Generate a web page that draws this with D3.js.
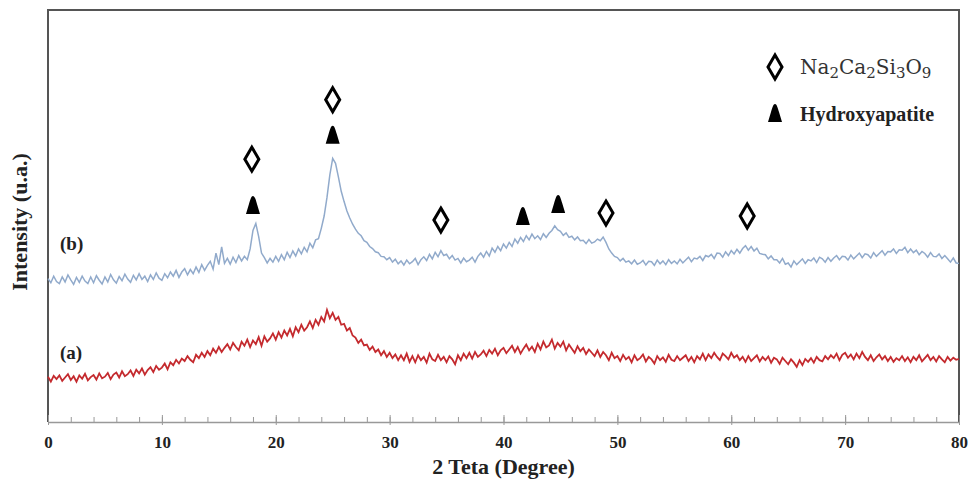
<!DOCTYPE html>
<html>
<head>
<meta charset="utf-8">
<script src="https://cdn.jsdelivr.net/npm/d3@7"></script>
<style>
  body { margin: 0; background: #fff; }
  svg { display: block; }
</style>
</head>
<body>
<div id="chart"></div>
<script>
// 2 theta grid, 0.25 degree steps from 0 to 80
const twoTheta = d3.range(0, 80.001, 0.25)

// sample (a), red (4 values per degree)
const sampleA = [
  110, 98, 112, 104, 113, 100, 108, 116, 102, 111, 98, 113, 105, 117, 101, 109,
  114, 103, 118, 106, 110, 119, 104, 115, 120, 108, 123, 111, 116, 125, 112, 127,
  118, 130, 115, 126, 133, 121, 136, 127, 132, 142, 128, 145, 138, 151, 142, 154,
  148, 160, 151, 145, 163, 155, 168, 158, 172, 162, 178, 168, 182, 170, 180, 189,
  176, 192, 182, 174, 195, 185, 200, 182, 198, 189, 206, 185, 208, 195, 203, 215,
  200, 218, 205, 222, 210, 226, 208, 230, 218, 236, 222, 230, 244, 228, 248, 236,
  255, 244, 272, 252, 265, 248, 255, 236, 238, 222, 228, 210, 205, 192, 200, 186,
  188, 175, 183, 170, 176, 162, 172, 158, 168, 155, 164, 150, 162, 150, 166, 146,
  160, 145, 162, 150, 158, 144, 166, 152, 148, 163, 150, 158, 145, 160, 152, 140,
  162, 150, 166, 155, 168, 154, 170, 158, 164, 173, 160, 175, 166, 178, 162, 174,
  180, 167, 176, 185, 170, 182, 166, 178, 188, 174, 183, 170, 190, 176, 195, 181,
  186, 200, 178, 192, 183, 195, 174, 188, 178, 168, 184, 172, 180, 165, 176, 168,
  160, 174, 158, 170, 162, 150, 168, 155, 160, 148, 163, 152, 158, 145, 162, 150,
  155, 164, 147, 158, 152, 142, 160, 150, 157, 146, 163, 151, 148, 160, 150, 156,
  162, 148, 158, 145, 160, 152, 166, 150, 164, 155, 168, 158, 150, 166, 160, 152,
  168, 156, 162, 150, 158, 146, 160, 148, 155, 162, 147, 158, 150, 159, 144, 156,
  152, 141, 156, 148, 140, 152, 144, 134, 150, 138, 153, 146, 155, 144, 158, 150,
  147, 160, 152, 162, 155, 166, 150, 163, 168, 156, 164, 152, 166, 155, 170, 158,
  150, 162, 148, 157, 164, 152, 160, 148, 158, 146, 155, 150, 160, 148, 157, 145,
  158, 150, 162, 147, 155, 163, 150, 158, 147, 160, 152, 145, 158, 149, 156, 151,
  153
]

// sample (b), blue
const sampleB = [
  348, 338, 354, 341, 336, 352, 340, 357, 345, 334, 351, 339, 354, 342, 336, 352,
  338, 355, 344, 335, 352, 340, 358, 345, 337, 353, 343, 359, 347, 339, 356, 345,
  360, 346, 354, 341, 357, 346, 362, 349, 344, 360, 350, 364, 354, 368, 351, 364,
  372, 357, 370, 360, 376, 363, 382, 368, 380, 390, 371, 410, 382, 425, 385, 397,
  383, 400, 387, 404, 391, 402, 394, 420, 465, 482, 450, 410, 399, 386, 397, 388,
  402, 390, 406, 394, 412, 399, 415, 403, 420, 408, 424, 413, 434, 423, 442, 445,
  470, 500, 545, 600, 640, 628, 595, 560, 535, 512, 495, 480, 468, 458, 452, 440,
  436, 426, 421, 413, 411, 402, 401, 394, 399, 388, 395, 384, 391, 381, 393, 384,
  389, 397, 382, 394, 401, 392, 407, 396, 412, 401, 416, 404, 407, 396, 404, 393,
  397, 386, 398, 389, 393, 400, 388, 402, 410, 400, 414, 403, 422, 412, 426, 416,
  432, 422, 436, 426, 444, 434, 448, 438, 452, 442, 456, 445, 452, 443, 457, 448,
  458, 465, 476, 467, 463, 453, 459, 448, 451, 442, 449, 440, 441, 433, 443, 434,
  437, 444, 440, 449, 436, 420, 410, 402, 399, 391, 397, 388, 391, 384, 393, 383,
  386, 392, 381, 390, 389, 380, 393, 384, 391, 382, 394, 385, 391, 384, 395, 386,
  393, 400, 389, 398, 396, 402, 392, 404, 401, 407, 397, 410, 409, 400, 413, 404,
  416, 408, 419, 410, 421, 428, 417, 426, 415, 422, 409, 407, 406, 396, 403, 394,
  394, 386, 397, 383, 386, 376, 391, 382, 389, 396, 385, 394, 391, 398, 387, 400,
  396, 388, 399, 390, 398, 404, 394, 402, 401, 393, 405, 396, 403, 410, 399, 408,
  406, 398, 411, 402, 409, 416, 405, 414, 413, 420, 409, 418, 417, 424, 411, 420,
  411, 417, 406, 414, 409, 400, 411, 402, 401, 408, 397, 404, 396, 388, 398, 386,
  385
]

// peak markers (angle, height of the marker)
const naAngles = [17.9, 25.0, 34.5, 49.0, 61.4]
const naLevels = [638, 782, 490, 507, 500]
const hapAngles = [18.0, 25.0, 41.7, 44.8]
const hapLevels = [527, 697, 500, 529]

const xTicks = [0, 10, 20, 30, 40, 50, 60, 70, 80]
const xMinorTicks = d3.range(0, 80.001, 2)

const width = 969, height = 480
const margin = { top: 10, right: 10, bottom: 58, left: 48 }
const innerW = width - margin.left - margin.right
const innerH = height - margin.top - margin.bottom

const svg = d3.select("#chart").append("svg")
  .attr("width", width)
  .attr("height", height)

const g = svg.append("g")
  .attr("transform", "translate(" + margin.left + "," + margin.top + ")")

const x = d3.scaleLinear().domain([0, 80]).range([0, innerW])
const y = d3.scaleLinear().domain([0, 1000]).range([innerH, 0])

// frame: left, top, right dark
g.append("path")
  .attr("d", `M0,${innerH}V0H${innerW}V${innerH}`)
  .attr("fill", "none")
  .attr("stroke", "#555")
  .attr("stroke-width", 2)

// bottom axis, ticks pointing inwards
const minorAxis = g.append("g")
  .attr("transform", "translate(0," + innerH + ")")
  .call(d3.axisBottom(x).tickValues(xMinorTicks).tickSizeInner(-5).tickSizeOuter(0).tickFormat(""))
minorAxis.select(".domain").attr("stroke", "#999").attr("stroke-width", 1.5)
minorAxis.selectAll(".tick line").attr("stroke", "#999")

const majorAxis = g.append("g")
  .attr("transform", "translate(0," + innerH + ")")
  .call(d3.axisBottom(x).tickValues(xTicks).tickSizeInner(-7).tickSizeOuter(0).tickPadding(14))
majorAxis.select(".domain").remove()
majorAxis.selectAll(".tick line").attr("stroke", "#999").attr("y2", -7).attr("y1", 3)
majorAxis.selectAll(".tick text")
  .attr("font-family", "Liberation Serif, serif")
  .attr("font-size", 17)
  .attr("font-weight", "bold")
  .attr("fill", "#222")

svg.append("text")
  .attr("x", margin.left + innerW / 2)
  .attr("y", 474)
  .attr("text-anchor", "middle")
  .attr("font-family", "Liberation Serif, serif")
  .attr("font-weight", "bold")
  .attr("font-size", 22)
  .attr("fill", "#222")
  .text("2 Teta (Degree)")

svg.append("text")
  .attr("transform", "translate(27,222) rotate(-90)")
  .attr("text-anchor", "middle")
  .attr("font-family", "Liberation Serif, serif")
  .attr("font-weight", "bold")
  .attr("font-size", 22)
  .attr("fill", "#222")
  .text("Intensity (u.a.)")

// the two patterns
const line = d3.line()
  .x((d, i) => x(twoTheta[i]))
  .y(d => y(d))

g.append("path")
  .datum(sampleA)
  .attr("d", line)
  .attr("fill", "none")
  .attr("stroke", "#c42a2e")
  .attr("stroke-width", 1.8)

g.append("path")
  .datum(sampleB)
  .attr("d", line)
  .attr("fill", "none")
  .attr("stroke", "#91aacb")
  .attr("stroke-width", 1.5)

// curve labels
const labelFont = (sel) => sel
  .attr("font-family", "Liberation Serif, serif")
  .attr("font-weight", "bold")
  .attr("font-size", 19)
  .attr("fill", "#222")

svg.append("text").attr("x", 60).attr("y", 250).text("(b)").call(labelFont)
svg.append("text").attr("x", 60).attr("y", 359).text("(a)").call(labelFont)

// marker shapes
const diamondPath = "M0,-12L7,0L0,12L-7,0Z"
const trianglePath = "M0,-9C2,-9 3,-4 4,-1L7,9H-7L-4,-1C-3,-4 -2,-9 0,-9Z"

g.selectAll(".na")
  .data(naAngles)
  .enter()
  .append("path")
  .attr("class", "na")
  .attr("transform", (d, i) => "translate(" + x(d) + "," + y(naLevels[i]) + ")")
  .attr("d", diamondPath)
  .attr("fill", "#fff")
  .attr("stroke", "#000")
  .attr("stroke-width", 3)

g.selectAll(".hap")
  .data(hapAngles)
  .enter()
  .append("path")
  .attr("class", "hap")
  .attr("transform", (d, i) => "translate(" + x(d) + "," + y(hapLevels[i]) + ")")
  .attr("d", trianglePath)
  .attr("fill", "#000")

// legend
const legend = svg.append("g")
legend.append("path")
  .attr("transform", "translate(775,67)")
  .attr("d", diamondPath)
  .attr("fill", "#fff")
  .attr("stroke", "#000")
  .attr("stroke-width", 3)
legend.append("path")
  .attr("transform", "translate(775,113)")
  .attr("d", trianglePath)
  .attr("fill", "#000")

const naText = legend.append("text")
  .attr("x", 800)
  .attr("y", 74)
  .attr("font-family", "DejaVu Serif, serif")
  .attr("font-size", 20)
  .attr("fill", "#333")
const parts = [["Na", false], ["2", true], ["Ca", false], ["2", true], ["Si", false], ["3", true], ["O", false], ["9", true]]
parts.forEach(([t, sub], i) => {
  const prevSub = i > 0 && parts[i - 1][1]
  naText.append("tspan")
    .attr("dy", sub ? 4 : (prevSub ? -4 : 0))
    .attr("font-size", sub ? 15 : 20)
    .text(t)
})

legend.append("text")
  .attr("x", 800)
  .attr("y", 121)
  .attr("font-family", "Liberation Serif, serif")
  .attr("font-weight", "bold")
  .attr("font-size", 20)
  .attr("fill", "#222")
  .text("Hydroxyapatite")
</script>
</body>
</html>
